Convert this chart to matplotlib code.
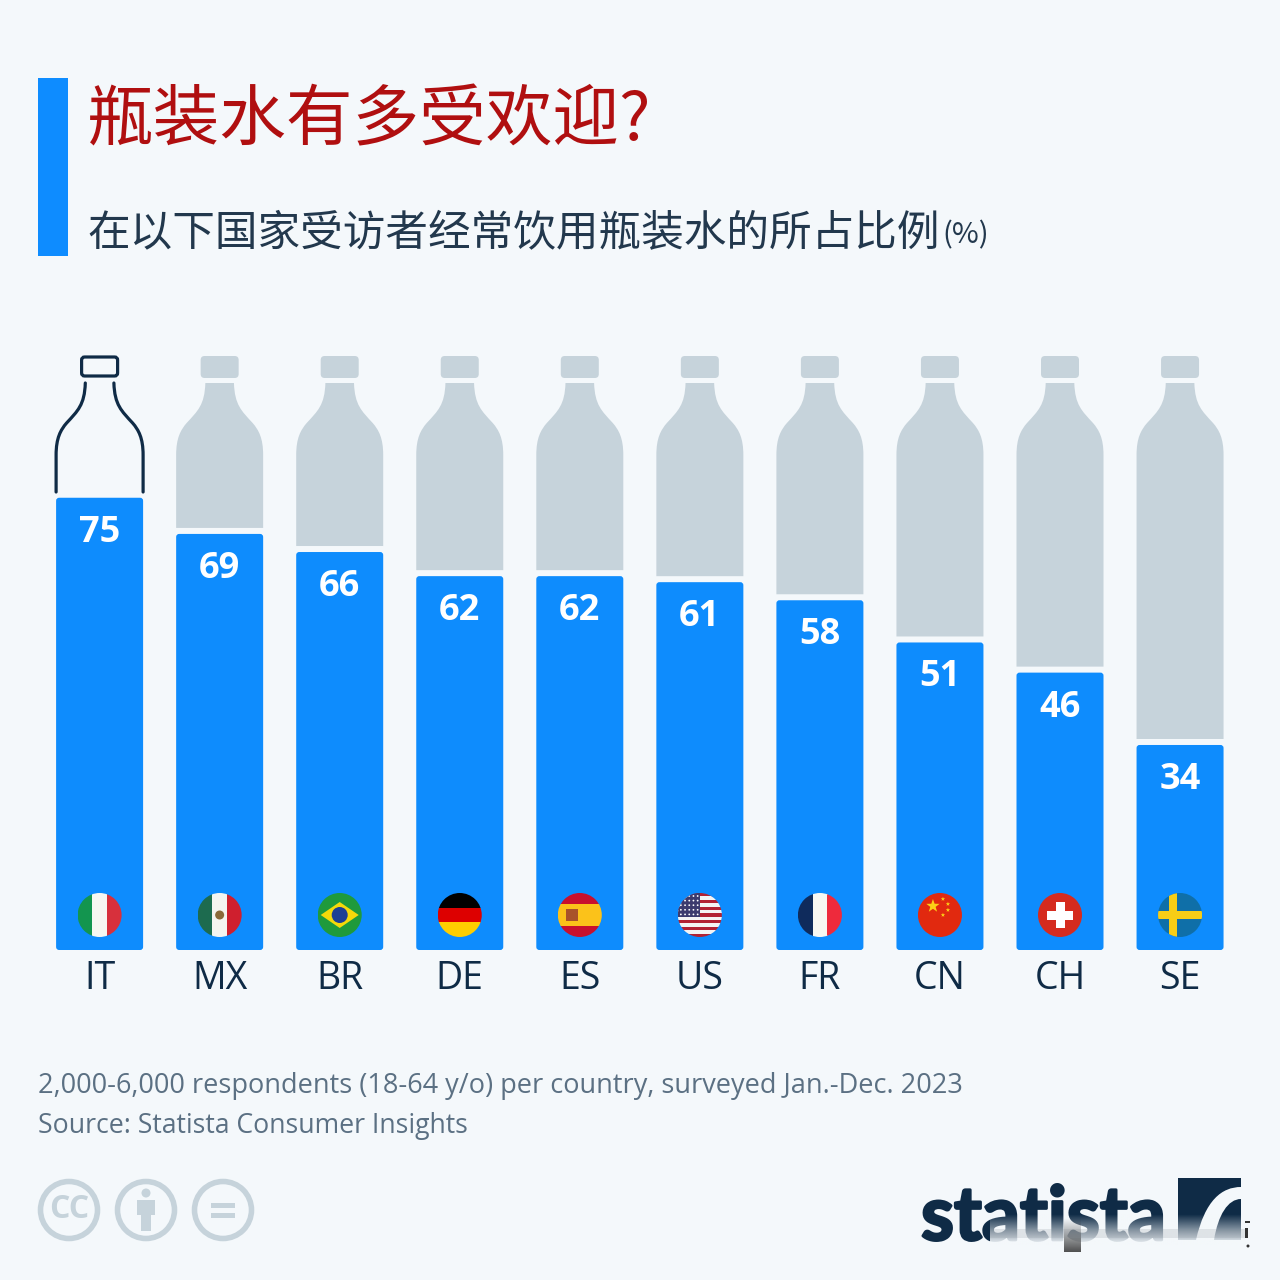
import numpy as np
import matplotlib
matplotlib.use("Agg")
import matplotlib.pyplot as plt
from matplotlib.patches import Rectangle, Circle, FancyBboxPatch, PathPatch, Polygon
from matplotlib.path import Path
from matplotlib import patheffects as pe

# ----------------------------- data ------------------------------------------
countries = ["IT", "MX", "BR", "DE", "ES", "US", "FR", "CN", "CH", "SE"]
shares = [75, 69, 66, 62, 62, 61, 58, 51, 46, 34]

TITLE = "瓶装水有多受欢迎?"
SUBTITLE = "在以下国家受访者经常饮用瓶装水的所占比例"
NOTE = "2,000-6,000 respondents (18-64 y/o) per country, surveyed Jan.-Dec. 2023"
SOURCE = "Source: Statista Consumer Insights"

# ----------------------------- style ------------------------------------------
BG, BLUE, GRAY, DARK = "#f4f8fb", "#0e8cfd", "#c6d3db", "#0f2b46"
RED, FOOT = "#b00f10", "#5b7083"
CJK = ["Noto Sans CJK SC", "DejaVu Sans"]
plt.rcParams["font.family"] = ["Open Sans", "DejaVu Sans"]

fig = plt.figure(figsize=(12.8, 12.8), dpi=100, facecolor=BG)

# chart axes: 100 units = 603 px, baseline at y=950 px
ax = fig.add_axes([0, (1280 - 950) / 1280, 1, 603 / 1280], facecolor="none", zorder=1)
X0, DX = 99.6, 120.05
ax.set_xlim(-X0 / DX, (1280 - X0) / DX)
ax.set_ylim(0, 100)
for s in ax.spines.values():
    s.set_visible(False)
ax.set_yticks([])
xs = np.arange(len(countries))
ax.set_xticks(xs, countries, fontsize=27, color=DARK)
ax.tick_params(axis="x", length=0, pad=7.5)

BAR_W = 87 / DX
for x, v in zip(xs, shares):
    ax.add_patch(FancyBboxPatch((x - BAR_W / 2, 0), BAR_W, v, boxstyle=f"round,pad=0,rounding_size={3 / DX}",
                                mutation_aspect=DX / 6.03, fc=BLUE, ec="none"))
    ax.annotate(str(v), (x, v), xytext=(0, -35 * 0.72), textcoords="offset points", ha="center", va="center",
                color="white", fontsize=26, fontweight="bold")

# overlay in pixel coordinates for the bottles, flags, header and footer
pix = fig.add_axes([0, 0, 1, 1], facecolor="none", zorder=2)
pix.set_xlim(0, 1280)
pix.set_ylim(1280, 0)
pix.axis("off")


def bottle_path(cx, bottom, closed=True):
    L = [(-43.5, bottom), (-43.5, 455), (-43.5, 438), (-39, 430), (-33, 423), (-22, 411), (-15, 405), (-14.3, 383)]
    C = [Path.MOVETO, Path.LINETO, Path.CURVE4, Path.CURVE4, Path.CURVE4, Path.CURVE4, Path.CURVE4, Path.CURVE4]
    R = [(-x, y) for x, y in L]
    if closed:
        verts = L + R[::-1]
        codes = C + [Path.LINETO] + C[::-1][:-1]
        return Path([(cx + x, y) for x, y in verts], codes)
    return [Path([(cx + s * x, y) for x, y in L], C) for s in (1, -1)]


for x, v in zip(xs, shares):
    cx = X0 + DX * x
    top = 950 - v * 6.03
    if x == 0:
        for p in bottle_path(cx, 492, closed=False):
            pix.add_patch(PathPatch(p, fc="none", ec=DARK, lw=2.3, capstyle="round"))
        pix.add_patch(FancyBboxPatch((cx - 18, 357), 36, 19, boxstyle="round,pad=0,rounding_size=3",
                                     fc="none", ec=DARK, lw=2.3))
    else:
        pix.add_patch(PathPatch(bottle_path(cx, top - 6), fc=GRAY, ec="none"))
        pix.add_patch(FancyBboxPatch((cx - 19, 356), 38, 22, boxstyle="round,pad=0,rounding_size=4",
                                     fc=GRAY, ec="none"))


# ----------------------------- flags ------------------------------------------
def flag(i, draw):
    cx, cy, r = X0 + DX * i, 915, 22
    clip = Circle((cx, cy), r, transform=pix.transData)
    for art in draw(cx, cy, r):
        pix.add_artist(art)
        art.set_clip_path(clip)


def vstripes(cols):
    def f(cx, cy, r):
        w = 2 * r / len(cols)
        return [Rectangle((cx - r + k * w, cy - r), w + .3, 2 * r, fc=c, ec="none") for k, c in enumerate(cols)]
    return f


def hstripes(cols, fr=None):
    def f(cx, cy, r):
        fr2 = fr or [1 / len(cols)] * len(cols)
        out, y = [], cy - r
        for c, h in zip(cols, fr2):
            out.append(Rectangle((cx - r, y), 2 * r, 2 * r * h + .3, fc=c, ec="none"))
            y += 2 * r * h
        return out
    return f


def mx(cx, cy, r):
    return vstripes(["#1d6b4f", "#f4f4f0", "#cf1f2e"])(cx, cy, r) + [Circle((cx, cy), 4.5, fc="#8a6a3a", ec="none")]


def br(cx, cy, r):
    return [Rectangle((cx - r, cy - r), 2 * r, 2 * r, fc="#1f9a3c", ec="none"),
            Polygon([(cx - 19, cy), (cx, cy - 13), (cx + 19, cy), (cx, cy + 13)], fc="#f5d90a", ec="none"),
            Circle((cx, cy), 8, fc="#1d3f94", ec="none")]


def es(cx, cy, r):
    return hstripes(["#c8102e", "#fbc21a", "#c8102e"], [.25, .5, .25])(cx, cy, r) + [
        Rectangle((cx - 14, cy - 6), 12, 12, fc="#a8522a", ec="none")]


def us(cx, cy, r):
    cols = ["#b22234" if k % 2 == 0 else "#f4f4f4" for k in range(13)]
    out = hstripes(cols)(cx, cy, r)
    out.append(Rectangle((cx - r, cy - r), 22, 24, fc="#3c3b6e", ec="none"))
    for row in range(5):
        for col in range(5):
            out.append(Circle((cx - r + 3 + col * 4.2, cy - r + 3 + row * 4.6), .9, fc="white", ec="none"))
    return out


def star(x, y, r, rot=0):
    pts = [(x + (r if k % 2 == 0 else r * .4) * np.sin(k * np.pi / 5 + rot),
            y - (r if k % 2 == 0 else r * .4) * np.cos(k * np.pi / 5 + rot)) for k in range(10)]
    return Polygon(pts, fc="#fcd116", ec="none")


def cn(cx, cy, r):
    out = [Rectangle((cx - r, cy - r), 2 * r, 2 * r, fc="#e1290f", ec="none"), star(cx - 7, cy - 9, 7)]
    for dx, dy in [(3, -16), (8, -11), (8, -5), (3, 0)]:
        out.append(star(cx + dx, cy + dy, 2.3))
    return out


def ch(cx, cy, r):
    return [Rectangle((cx - r, cy - r), 2 * r, 2 * r, fc="#d52b1e", ec="none"),
            Rectangle((cx - 13, cy - 4.5), 26, 9, fc="white", ec="none"),
            Rectangle((cx - 4.5, cy - 13), 9, 26, fc="white", ec="none")]


def se(cx, cy, r):
    return [Rectangle((cx - r, cy - r), 2 * r, 2 * r, fc="#0f6fa8", ec="none"),
            Rectangle((cx - r, cy - 4), 2 * r, 8, fc="#f7cd16", ec="none"),
            Rectangle((cx - 11, cy - r), 8, 2 * r, fc="#f7cd16", ec="none")]


flag_draw = [vstripes(["#13954f", "#f7f7f2", "#d7303c"]), mx, br,
             hstripes(["#000000", "#dd0000", "#ffce00"]), es, us,
             vstripes(["#0f2b5c", "#f7f7f2", "#ee2a3c"]), cn, ch, se]
for i, d in enumerate(flag_draw):
    flag(i, d)

# ----------------------------- header ------------------------------------------
pix.add_patch(Rectangle((38, 78), 30, 178, fc="#0e8cff", ec="none"))
pix.text(87, 122, TITLE, family=CJK, fontsize=48, color=RED, va="center", ha="left")
pix.text(87, 234, SUBTITLE, family=CJK, fontsize=30.7, color="#22384d", va="center", ha="left")
pix.text(942, 235, "(%)", family=CJK, fontsize=21, color="#22384d", va="center", ha="left")

# ----------------------------- footer ------------------------------------------
pix.text(38, 1086, NOTE, fontsize=19.5, color=FOOT, va="center", ha="left")
pix.text(38, 1126, SOURCE, fontsize=19.2, color=FOOT, va="center", ha="left")

for cx in (69, 146, 223):
    pix.add_patch(Circle((cx, 1210), 28.5, fc="none", ec=GRAY, lw=4))
pix.text(69, 1210, "CC", fontsize=23, fontweight="bold", color=GRAY, ha="center", va="center")
pix.add_patch(Circle((146, 1193), 4.5, fc=GRAY, ec="none"))
pix.add_patch(Rectangle((137, 1200), 18, 15, fc=GRAY, ec="none"))
pix.add_patch(Rectangle((141, 1215), 10, 16, fc=GRAY, ec="none"))
pix.add_patch(Rectangle((211, 1203), 24, 5, fc=GRAY, ec="none"))
pix.add_patch(Rectangle((211, 1213), 24, 5, fc=GRAY, ec="none"))

# logo
pix.text(921, 1240, "statista", family=["Lato", "DejaVu Sans"], fontsize=54, fontweight="bold",
         color=DARK, ha="left", va="baseline", path_effects=[pe.withStroke(linewidth=2, foreground=DARK)])
pix.add_patch(Rectangle((1178, 1178), 63, 62, fc=DARK, ec="none"))
swoosh = Path([(1241, 1187), (1222, 1187), (1205, 1200), (1196, 1240), (1214, 1240), (1218, 1215), (1228, 1199), (1241, 1199), (1241, 1187)],
              [Path.MOVETO, Path.CURVE4, Path.CURVE4, Path.CURVE4, Path.LINETO, Path.CURVE4, Path.CURVE4, Path.CURVE4, Path.CLOSEPOLY])
pix.add_patch(PathPatch(swoosh, fc=BG, ec="none"))

# washed out lower part of the logo, as in the source image
fade = np.ones((64, 2, 4))
fade[..., :3] = matplotlib.colors.to_rgb(BG)
fade[..., 3] = np.tile(np.linspace(0, 1, 64)[:, None], (1, 2))
pix.imshow(fade, extent=(990, 1248, 1245, 1214), aspect="auto", zorder=5, interpolation="bilinear")
smudge = np.zeros((64, 2, 4))
smudge[..., :3] = 0.15
smudge[..., 3] = np.tile(np.linspace(0, 0.8, 64)[:, None], (1, 2))
pix.imshow(smudge, extent=(1064, 1081, 1252, 1218), aspect="auto", zorder=6, interpolation="bilinear")
pix.add_patch(Rectangle((990, 1229), 255, 9, fc="#8a929a", ec="none", alpha=.2, zorder=6))
pix.add_patch(Rectangle((1245, 1228), 3, 10, fc="#333333", ec="none", zorder=6))
pix.add_patch(Rectangle((1245, 1221), 5, 2, fc="#333333", ec="none", zorder=6))
pix.add_patch(Circle((1248, 1246), 1.5, fc="#333333", ec="none", zorder=6))
pix.set_xlim(0, 1280)
pix.set_ylim(1280, 0)

fig.savefig("out.png", dpi=100, facecolor=BG)
